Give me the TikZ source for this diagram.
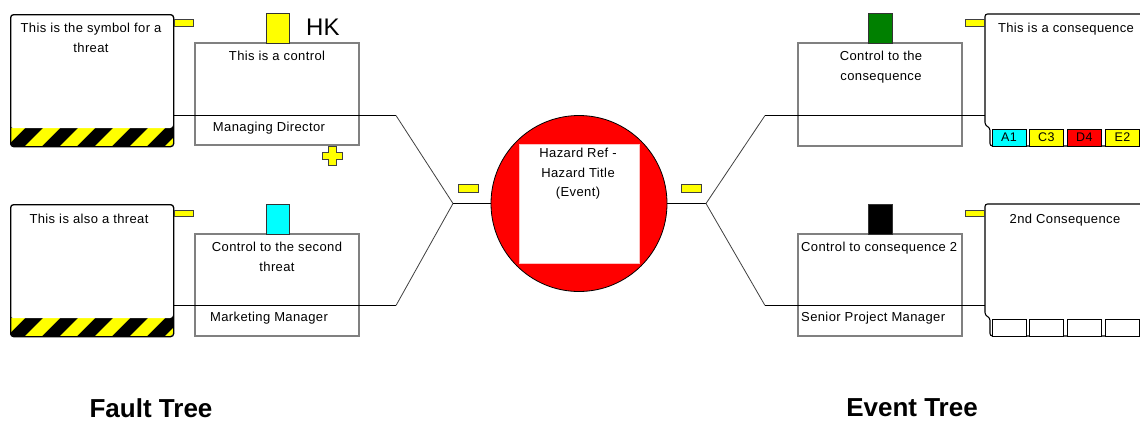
\documentclass[tikz,border=0pt]{standalone}
\usepackage{fontspec}
\setmainfont{Liberation Sans}
\newfontfamily\gdifont{Liberation Sans}[LetterSpace=3]
\usetikzlibrary{calc}
\definecolor{hzred}{RGB}{255,0,0}
\definecolor{hzyellow}{RGB}{255,255,0}
\definecolor{hzcyan}{RGB}{0,255,255}
\definecolor{hzgreen}{RGB}{0,128,0}
\definecolor{ctrlgray}{RGB}{128,128,128}
\begin{document}
\begin{tikzpicture}[x=1pt,y=-1pt,
  txt/.style={font=\gdifont\fontsize{13}{19.5}\selectfont, inner sep=0pt, align=center},
  ltxt/.style={font=\gdifont\fontsize{13}{19.5}\selectfont, inner sep=0pt, align=left},
  bigtxt/.style={font=\fontsize{26}{28}\selectfont\bfseries, inner sep=0pt},
  threatbox/.style={draw=black, line width=1.3pt, rounded corners=3pt, inner sep=0pt},
  ctrlbox/.style={draw=ctrlgray, line width=1.6pt, inner sep=0pt},
  tab/.style={draw=black!75, fill=hzyellow, line width=0.6pt},
  flag/.style={draw=black!80, line width=0.6pt},
  hline/.style={draw=black, line width=0.9pt},
  dline/.style={draw=black!75, line width=0.8pt},
  cell/.style={draw=black, line width=0.8pt, inner sep=0pt, minimum width=34, minimum height=17, font=\gdifont\fontsize{12.5}{14}\selectfont},
]
\useasboundingbox (0,0) rectangle (1140,421);
\clip (0,0) rectangle (1140,421);

% ---------- threat boxes ----------
\foreach \dy/\n in {0/1,190/2}{
  \begin{scope}
    \clip[rounded corners=3pt] (10,14+\dy) rectangle (173,146+\dy);
    \fill[black] (10,118+\dy) rectangle (173,146+\dy);
    \foreach \sx in {-45,-10,25,60,95,130,165}{
      \fill[hzyellow] (\sx,146+\dy) -- (\sx+17,146+\dy) -- (\sx+35,128+\dy) -- (\sx+18,128+\dy) -- cycle;
    }
    \fill[white, rounded corners=3pt] (10,10+\dy) rectangle (173,128+\dy);
  \end{scope}
  \node[threatbox, anchor=north west, minimum width=163, minimum height=132] (threat\n) at (10,14+\dy) {};
}
\node[txt, anchor=north] (t1txt) at (91,23) {This is the symbol for a\\threat};
\node[txt, anchor=north] (t2txt) at (89,214) {This is also a threat};

% threat tabs
\draw[tab] (174,19) rectangle (193,26);
\draw[tab] (174,210) rectangle (193,216.5);

% ---------- control boxes (left) ----------
\node[ctrlbox, minimum width=164, minimum height=102] (ctrl1) at (277,94) {};
\node[ctrlbox, minimum width=164, minimum height=102] (ctrl2) at (277,285) {};
\draw[flag, fill=hzyellow] (266,13) rectangle (289,43);
\draw[flag, fill=hzcyan] (266,204) rectangle (289,234);
\node[font=\fontsize{24}{26}\selectfont, inner sep=0pt, anchor=west] (hk) at (306,27) {HK};
\node[txt, anchor=north] (c1txt) at (277,51) {This is a control};
\node[txt, anchor=north] (c1own) at (269,122) {Managing Director};
\node[txt, anchor=north] (c2txt) at (277,242) {Control to the second\\threat};
\node[txt, anchor=north] (c2own) at (269,312) {Marketing Manager};

% plus sign
\draw[fill=hzyellow, draw=black!75, line width=0.6pt]
  (328.5,146) -- (336.5,146) -- (336.5,152.5) -- (342.5,152.5) -- (342.5,159.5) -- (336.5,159.5)
  -- (336.5,165) -- (328.5,165) -- (328.5,159.5) -- (322.5,159.5) -- (322.5,152.5) -- (328.5,152.5) -- cycle;

% ---------- hazard ----------
\node[circle, fill=hzred, draw=black, line width=0.8pt, minimum size=176, inner sep=0pt] (hazard) at (579,203.5) {};
\node[fill=white, draw=red!25, line width=0.6pt, minimum width=120, minimum height=119, inner sep=0pt] (hazsq) at (579,203.5) {};
\node[txt, anchor=north] (haztxt) at (578,148) {Hazard Ref -\\Hazard Title\\(Event)};

% ---------- junctions ----------
\coordinate (JL1) at (396,115.5);
\coordinate (JL2) at (396,305.5);
\coordinate (JL) at (453,203.5);
\coordinate (JR) at (706,203.5);
\coordinate (JR1) at (765,115.5);
\coordinate (JR2) at (765,305.5);

\draw[hline] (threat1.east |- JL1) -- (JL1);
\draw[hline] (threat2.east |- JL2) -- (JL2);
\draw[dline] (JL1) -- (JL) -- (JL2);
\draw[hline] (JL) -- (hazard.west);
\draw[hline] (hazard.east) -- (JR);
\draw[dline] (JR1) -- (JR) -- (JR2);

\draw[tab] (458,184) rectangle (478,192);
\draw[tab] (681,184) rectangle (701,192);

% ---------- control boxes (right) ----------
\node[ctrlbox, minimum width=164, minimum height=103] (ctrl3) at (880,94.5) {};
\node[ctrlbox, minimum width=164, minimum height=102] (ctrl4) at (880,285) {};
\draw[flag, fill=hzgreen] (868,13) rectangle (892,43);
\draw[flag, fill=black] (868,204) rectangle (892,234);
\node[txt, anchor=north] (c3txt) at (881,51) {Control to the\\consequence};
\node[ltxt, anchor=north west] (c4txt) at (801,242) {Control to consequence 2};
\node[ltxt, anchor=north west] (c4own) at (801,312) {Senior Project Manager};

% ---------- consequence boxes ----------
\node[inner sep=0pt, minimum width=164, minimum height=132, anchor=north west] (cons1) at (985,14) {};
\node[inner sep=0pt, minimum width=164, minimum height=132, anchor=north west] (cons2) at (985,204) {};
\foreach \dy in {0,190}{
  \draw[black, line width=1.1pt, rounded corners=2.5pt]
    (1160,14+\dy) -- (985,14+\dy) -- (985,125+\dy) -- (990,128+\dy) -- (990,146+\dy) -- (1160,146+\dy);
}
\draw[hline] (JR1) -- (cons1.west |- JR1);
\draw[hline] (JR2) -- (cons2.west |- JR2);

\node[txt, anchor=north] (k1txt) at (1066,23) {This is a consequence};
\node[txt, anchor=north] (k2txt) at (1065,214) {2nd Consequence};
\draw[tab] (965,19) rectangle (984,26);
\draw[tab] (965,210) rectangle (984,216.5);

\node[cell, fill=hzcyan, anchor=north west] (a1) at (991.5,128.5) {A1};
\node[cell, fill=hzyellow, anchor=north west] (c3) at (1029,128.5) {C3};
\node[cell, fill=hzred, anchor=north west] (d4) at (1067,128.5) {D4};
\node[cell, fill=hzyellow, anchor=north west] (e2) at (1105,128.5) {E2};
\node[cell, fill=white, anchor=north west] (a1b) at (991.5,318.5) {};
\node[cell, fill=white, anchor=north west] (c3b) at (1029,318.5) {};
\node[cell, fill=white, anchor=north west] (d4b) at (1067,318.5) {};
\node[cell, fill=white, anchor=north west] (e2b) at (1105,318.5) {};

% ---------- titles ----------
\node[bigtxt] (fault) at (151,408) {Fault Tree};
\node[bigtxt] (event) at (912,408) {Event Tree};
\end{tikzpicture}
\end{document}
